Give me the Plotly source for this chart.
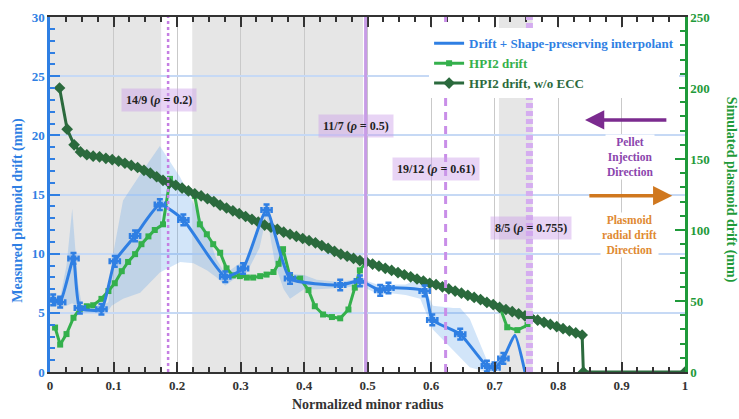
import plotly.graph_objects as go

FONT = "Liberation Serif, Times New Roman, serif"
BLUE = "#2f7fe3"
GREEN = "#34b04c"
DKGREEN = "#2b6a3d"
AXGREEN = "#1f9a3a"

# ---------------- data ----------------
# Measured plasmoid drift (left axis, mm) + shape-preserving interpolant
meas_x = [0.005, 0.016, 0.037, 0.047, 0.081, 0.102, 0.134, 0.173, 0.21, 0.276,
          0.304, 0.341, 0.378, 0.457, 0.488, 0.52, 0.533, 0.59, 0.602, 0.646,
          0.688, 0.70, 0.714, 0.732, 0.748]
meas_y = [6.1, 5.9, 9.6, 5.4, 5.3, 9.35, 11.5, 14.15, 12.85, 8.05,
          8.75, 13.7, 7.9, 7.35, 7.7, 6.9, 7.1, 6.85, 4.4, 3.2,
          0.5, 0.35, 1.15, 3.1, 0.0]
meas_marked = [True] * 23 + [False, False]

# Uncertainty band of the measured drift (left axis, mm)
band_x = [0.0, 0.016, 0.026, 0.035, 0.044, 0.05, 0.081, 0.092, 0.097, 0.115,
          0.142, 0.173, 0.205, 0.226, 0.247, 0.262, 0.276, 0.299, 0.31, 0.33,
          0.341, 0.355, 0.368, 0.378, 0.40, 0.42, 0.457, 0.488, 0.52, 0.53,
          0.56, 0.583, 0.603, 0.635, 0.646, 0.661, 0.688, 0.70]
band_upper = [6.5, 6.3, 9.0, 13.8, 7.5, 5.7, 5.6, 5.9, 9.3, 14.5,
              16.7, 19.1, 16.45, 14.25, 11.8, 9.55, 8.3, 9.2, 9.3, 12.0,
              14.0, 11.5, 9.0, 8.3, 8.2, 7.8, 7.6, 7.9, 7.3, 7.4,
              7.4, 7.9, 5.6, 5.4, 5.4, 4.5, 1.0, 0.6]
band_lower = [5.7, 5.5, 5.6, 5.8, 5.4, 5.0, 5.0, 5.2, 5.6, 6.2,
              6.7, 8.4, 9.3, 9.2, 8.6, 8.0, 7.3, 8.2, 8.4, 10.5,
              13.2, 9.0, 7.0, 6.2, 7.0, 7.0, 7.1, 7.3, 6.5, 6.7,
              6.5, 6.2, 3.6, 1.8, 1.2, 0.4, 0.0, 0.0]

# Simulated drift without ECC (right axis, mm)
noecc_x = [0.015, 0.027, 0.038,
           0.048, 0.058, 0.068, 0.078, 0.088, 0.098, 0.108, 0.118, 0.128, 0.138,
           0.148, 0.158, 0.168, 0.178, 0.188, 0.198, 0.208, 0.218, 0.228, 0.238,
           0.248, 0.258, 0.268, 0.278, 0.288, 0.298, 0.308, 0.318, 0.328, 0.338,
           0.348, 0.358, 0.368, 0.378, 0.388, 0.398, 0.408, 0.418, 0.428, 0.438,
           0.448, 0.458, 0.468, 0.478, 0.488, 0.498, 0.508, 0.518, 0.528, 0.538,
           0.548, 0.558, 0.568, 0.578, 0.588, 0.598, 0.608, 0.618, 0.628, 0.638,
           0.648, 0.658, 0.668, 0.678, 0.688, 0.698, 0.708, 0.718, 0.728, 0.738,
           0.748, 0.758, 0.768, 0.778, 0.788, 0.798, 0.808, 0.818, 0.828, 0.838,
           0.84, 1.0]
noecc_y = [200, 171, 160,
           155, 153, 152, 151.5, 150.5, 149.5, 148.5, 147, 145.5, 144,
           142, 140, 137.5, 135, 133, 131.5, 129.5, 127.5, 125.5, 124,
           122, 120, 117.5, 115.5, 113.5, 111.5, 109.5, 107.5, 105.5, 103.5,
           102, 100.5, 98.5, 97, 95.5, 94, 92.5, 91, 89, 87,
           85, 83, 81.5, 80, 78.5, 77.5, 76, 74.5, 73, 71.5,
           70, 68.5, 67, 65.5, 64, 62.5, 61.5, 60, 58.5, 57,
           55.5, 54, 52.5, 51, 49, 47.5, 45.5, 44, 42.5, 41,
           39.5, 38, 36.5, 35, 33.5, 32, 30.5, 29, 27.5, 26,
           0, 0]

# Simulated drift with ECC (HPI2 drift, right axis, mm)
hpi2_x = [0.008, 0.016, 0.026, 0.037, 0.047, 0.058, 0.068, 0.081, 0.092, 0.102,
          0.113, 0.123, 0.134, 0.144, 0.155, 0.165, 0.178, 0.189, 0.198, 0.208,
          0.218, 0.228, 0.236, 0.247, 0.257, 0.268, 0.278, 0.288, 0.299, 0.31,
          0.32, 0.331, 0.341, 0.352, 0.36, 0.367, 0.378, 0.394, 0.407, 0.417,
          0.43, 0.444, 0.457, 0.47, 0.48, 0.488, 0.498, 0.508, 0.518, 0.528,
          0.538, 0.548, 0.558, 0.568, 0.578, 0.588, 0.598, 0.608, 0.618, 0.628,
          0.638, 0.648, 0.658, 0.668, 0.678, 0.688, 0.698, 0.709, 0.72, 0.736,
          0.752, 0.759, 0.768]
hpi2_y = [31.3, 19.3, 26.7, 38.2, 44.5, 46.3, 47, 51.5, 57, 62.5,
          71, 77.5, 83, 90, 95.5, 100, 104, 136, 131.5, 129.5,
          127.5, 124, 104, 97, 90, 84, 73, 68, 67.5, 66.5,
          66.5, 67.5, 68.6, 70.4, 76.2, 86.5, 67, 65.8, 57.7, 46.3,
          40.5, 38.7, 37.8, 44, 59.4, 71.6, 77.5, 76, 74.5, 73,
          71.5, 70, 68.5, 67, 65.5, 64, 62.5, 61.5, 60, 58.5,
          57, 55.5, 54, 52.5, 51, 49, 47.5, 45, 31.5, 29.5,
          33, 38, 36.5]

# Background shaded radial regions
shaded_regions = [(0.0, 0.175), (0.224, 0.493), (0.707, 0.76)]

# Rational surfaces: label, label position (x, y in mm), line position
q_labels = ["14/9 (<i>ρ</i> = 0.2)", "11/7 (<i>ρ</i> = 0.5)",
            "19/12 (<i>ρ</i> = 0.61)", "8/5 (<i>ρ</i> = 0.755)"]
q_label_x = [0.172, 0.482, 0.608, 0.758]
q_label_y = [22.95, 20.8, 17.15, 12.15]
q_line_x = [0.186, 0.497, 0.623, 0.755]

# ---------------- figure ----------------
fig = go.Figure()

# uncertainty band (left axis)
fig.add_trace(go.Scatter(x=band_x, y=band_lower, mode="lines", line=dict(width=0),
                         yaxis="y", showlegend=False, hoverinfo="skip"))
fig.add_trace(go.Scatter(x=band_x, y=band_upper, mode="lines", line=dict(width=0),
                         fill="tonexty", fillcolor="rgba(95,160,232,0.28)",
                         yaxis="y", showlegend=False, hoverinfo="skip"))

# simulated (right axis)
fig.add_trace(go.Scatter(
    x=hpi2_x, y=hpi2_y, mode="lines+markers", yaxis="y2",
    line=dict(color=GREEN, width=3),
    marker=dict(symbol="square", size=6, color=GREEN),
    name=f'<b><span style="color:{GREEN}">HPI2 drift</span></b>', legendrank=2))
fig.add_trace(go.Scatter(
    x=noecc_x, y=noecc_y, mode="lines+markers", yaxis="y2",
    line=dict(color=DKGREEN, width=3),
    marker=dict(symbol="diamond", size=9, color=DKGREEN),
    name=f'<b><span style="color:{DKGREEN}">HPI2 drift, w/o ECC</span></b>', legendrank=3))

# measured (left-axis scale, drawn on top)
fig.add_trace(go.Scatter(
    x=meas_x, y=meas_y, mode="lines", yaxis="y3",
    line=dict(color=BLUE, width=3, shape="spline", smoothing=0.5),
    name=f'<b><span style="color:{BLUE}">Drift + Shape-preserving interpolant</span></b>',
    legendrank=1))
mx = [x for x, m in zip(meas_x, meas_marked) if m]
my = [y for y, m in zip(meas_y, meas_marked) if m]
fig.add_trace(go.Scatter(
    x=mx, y=my, mode="markers", yaxis="y3", showlegend=False,
    marker=dict(symbol="square", size=6, color=BLUE),
    error_x=dict(type="constant", value=0.008, color=BLUE, thickness=2.5, width=3),
    error_y=dict(type="constant", value=0.45, color=BLUE, thickness=2.5, width=3)))

shapes = []
for x0, x1 in shaded_regions:
    shapes.append(dict(type="rect", xref="x", yref="paper", x0=x0, x1=x1, y0=0, y1=1,
                       fillcolor="#e6e6e6", line=dict(width=0), layer="below"))
line_styles = [dict(color="#c57fe3", width=2.5, dash="dot"),
               dict(color="#c79ce6", width=3, dash="solid"),
               dict(color="#c98ee8", width=3, dash="8px,6px"),
               dict(color="#d5adf0", width=7, dash="5px,3px")]
for xv, st in zip(q_line_x, line_styles):
    shapes.append(dict(type="line", xref="x", yref="paper", x0=xv, x1=xv, y0=0, y1=1,
                       line=st, layer="above"))

annotations = []
for t, xv, yv in zip(q_labels, q_label_x, q_label_y):
    annotations.append(dict(x=xv, y=yv, xref="x", yref="y", text=f"<b>{t}</b>",
                            showarrow=False, bgcolor="rgba(205,160,232,0.45)",
                            xanchor="center", yanchor="middle",
                            borderpad=4, font=dict(family=FONT, size=12, color="#222")))

# direction arrows and texts
annotations.append(dict(x=0.8425, y=21.3, ax=0.973, ay=21.3, xref="x", yref="y",
                        axref="x", ayref="y", text="", showarrow=True, arrowhead=2,
                        arrowsize=1.1, arrowwidth=3.5, arrowcolor="#7b2b8f"))
annotations.append(dict(x=0.98, y=14.9, ax=0.847, ay=14.9, xref="x", yref="y",
                        axref="x", ayref="y", text="", showarrow=True, arrowhead=2,
                        arrowsize=1.1, arrowwidth=3.5, arrowcolor="#d0781f"))
annotations.append(dict(x=0.913, y=18.2, xref="x", yref="y", xanchor="center",
                        yanchor="middle",
                        text="<b>Pellet<br>Injection<br>Direction</b>", showarrow=False,
                        bgcolor="white", font=dict(family=FONT, size=11.5, color="#8b45ad")))
annotations.append(dict(x=0.913, y=11.55, xref="x", yref="y", xanchor="center",
                        yanchor="middle",
                        text="<b>Plasmoid<br>radial drift<br>Direction</b>", showarrow=False,
                        bgcolor="white", font=dict(family=FONT, size=11.5, color="#e08a32")))

# axis titles
annotations.append(dict(x=-0.0504, y=0.457, xref="paper", yref="paper", textangle=-90,
                        xanchor="center", yanchor="middle",
                        text="<b>Measured plasmoid drift (mm)</b>", showarrow=False,
                        font=dict(family=FONT, size=14, color=BLUE)))
annotations.append(dict(x=1.0735, y=0.514, xref="paper", yref="paper", textangle=90,
                        xanchor="center", yanchor="middle",
                        text="<b>Simulated plasmoid drift (mm)</b>", showarrow=False,
                        font=dict(family=FONT, size=14, color=AXGREEN)))
annotations.append(dict(x=0.5, y=-0.091, xref="paper", yref="paper",
                        xanchor="center", yanchor="middle",
                        text="<b>Normalized minor radius</b>", showarrow=False,
                        font=dict(family=FONT, size=14, color="#333")))

fig.update_layout(
    width=739, height=419,
    margin=dict(l=50, r=54, t=10, b=47),
    paper_bgcolor="white", plot_bgcolor="white",
    font=dict(family=FONT),
    showlegend=True,
    legend=dict(x=0.597, y=0.968, xanchor="left", yanchor="top", bgcolor="white",
                borderwidth=0, font=dict(family=FONT, size=13), itemwidth=30,
                tracegroupgap=0, traceorder="normal"),
    xaxis=dict(range=[0, 1], dtick=0.1, showline=True, linecolor="#333", linewidth=2,
               mirror="ticks", ticks="inside", ticklen=10, tickwidth=2, tickcolor="#333",
               minor=dict(dtick=0.025, ticks="inside", ticklen=5, tickwidth=1.5,
                          tickcolor="#333", showgrid=False),
               showgrid=True, gridcolor="#c9c9c9", gridwidth=1, zeroline=False,
               tickfont=dict(family=FONT, size=13, color="#333", weight="bold")),
    yaxis=dict(range=[0, 30], dtick=5, side="left", showline=True, linecolor=BLUE,
               linewidth=2.5, ticks="inside", ticklen=10, tickwidth=2, tickcolor=BLUE,
               minor=dict(dtick=1, ticks="inside", ticklen=5, tickwidth=1.5,
                          tickcolor=BLUE, showgrid=False),
               showgrid=True, gridcolor="#c6d9f5", gridwidth=1.5, zeroline=False,
               tickfont=dict(family=FONT, size=13, color=BLUE, weight="bold")),
    yaxis2=dict(range=[0, 250], dtick=50, side="right", overlaying="y", anchor="x",
                showline=True, linecolor=AXGREEN, linewidth=2.5, ticks="inside",
                ticklen=10, tickwidth=2, tickcolor=AXGREEN,
                minor=dict(dtick=10, ticks="inside", ticklen=5, tickwidth=1.5,
                           tickcolor=AXGREEN, showgrid=False),
                showgrid=False, zeroline=False,
                tickfont=dict(family=FONT, size=13, color=AXGREEN, weight="bold")),
    yaxis3=dict(range=[0, 30], overlaying="y", anchor="x", visible=False,
                showgrid=False, zeroline=False),
    shapes=shapes,
    annotations=annotations,
)

fig.write_html("out.html")
